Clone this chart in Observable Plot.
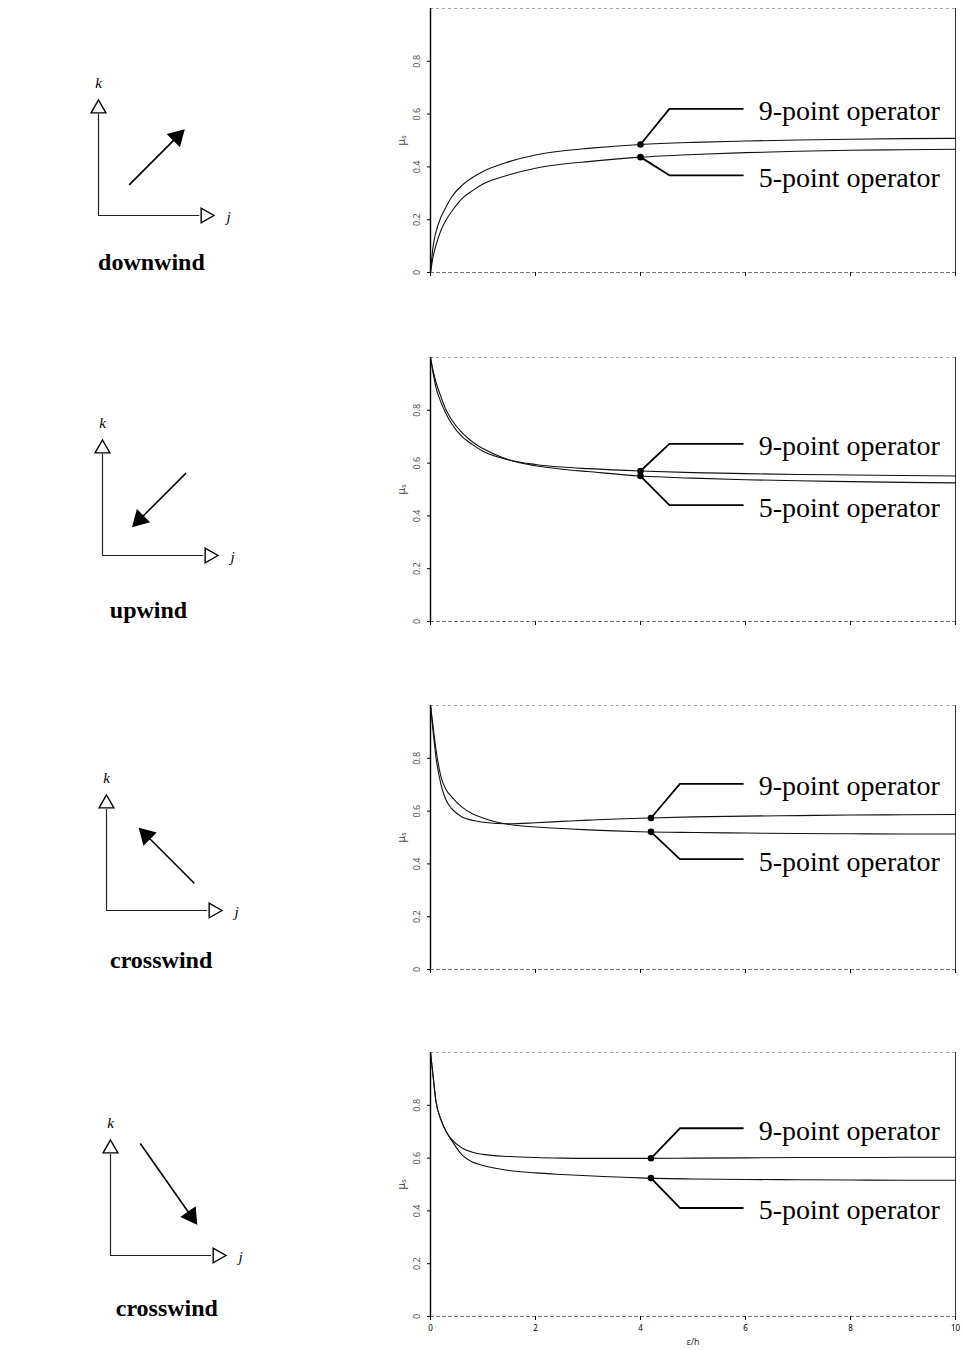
<!DOCTYPE html>
<html><head><meta charset="utf-8">
<script src="https://cdn.jsdelivr.net/npm/d3@7"></script>
<script src="https://cdn.jsdelivr.net/npm/@observablehq/plot@0.6"></script>
<style>
html,body{margin:0;padding:0;background:#fff;}
#root{position:relative;width:963px;height:1350px;overflow:hidden;background:#fff;}
#root svg{position:absolute;background:transparent;overflow:visible;max-width:none;}
g[aria-label="op-label"] text{letter-spacing:0.1px;}
g[aria-label="wind-label"] text{letter-spacing:0.9px;}
</style></head><body><div id="root"></div>
<script>
// ---- data ----
const eps = [0, 0.05, 0.1, 0.2, 0.3, 0.4, 0.6, 0.8, 1, 1.5, 2, 2.5, 3, 4, 5, 6, 7, 8, 9, 10];

const downwind9 = [0, 0.10, 0.15, 0.21, 0.25, 0.285, 0.33, 0.36, 0.383, 0.42, 0.445, 0.46, 0.47, 0.485, 0.493, 0.498, 0.502, 0.505, 0.507, 0.508];
const downwind5 = [0, 0.06, 0.10, 0.16, 0.20, 0.23, 0.28, 0.31, 0.335, 0.37, 0.395, 0.41, 0.42, 0.437, 0.447, 0.454, 0.459, 0.463, 0.465, 0.467];

const upwind9 = [1.0, 0.94, 0.89, 0.83, 0.785, 0.75, 0.70, 0.67, 0.645, 0.612, 0.595, 0.585, 0.579, 0.570, 0.564, 0.560, 0.557, 0.555, 0.553, 0.551];
const upwind5 = [1.0, 0.95, 0.91, 0.85, 0.80, 0.765, 0.715, 0.68, 0.655, 0.612, 0.59, 0.577, 0.568, 0.551, 0.543, 0.537, 0.533, 0.530, 0.527, 0.525];

const crossA9 = [1.0, 0.90, 0.81, 0.70, 0.64, 0.61, 0.578, 0.565, 0.558, 0.552, 0.556, 0.561, 0.566, 0.573, 0.578, 0.581, 0.583, 0.585, 0.586, 0.587];
const crossA5 = [1.0, 0.92, 0.84, 0.73, 0.68, 0.655, 0.615, 0.59, 0.574, 0.549, 0.54, 0.534, 0.529, 0.522, 0.519, 0.517, 0.515, 0.514, 0.513, 0.513];

const crossB9 = [1.0, 0.91, 0.82, 0.745, 0.70, 0.672, 0.638, 0.622, 0.614, 0.606, 0.602, 0.600, 0.599, 0.599, 0.600, 0.601, 0.602, 0.602, 0.603, 0.603];
const crossB5 = [1.0, 0.91, 0.82, 0.745, 0.70, 0.668, 0.612, 0.585, 0.572, 0.553, 0.544, 0.538, 0.533, 0.525, 0.521, 0.519, 0.518, 0.517, 0.516, 0.516];

const seriesNames = ["9-point operator", "5-point operator"];
const windNames = ["downwind", "upwind", "crosswind", "crosswind"];
const windAngles = [45, 225, 315, 145];   // flow direction, degrees clockwise from k

const yTicks = [0, 0.2, 0.4, 0.6, 0.8];
const yTickLabels = ["0", "0.2", "0.4", "0.6", "0.8"];
const xTicks = [0, 2, 4, 6, 8, 10];
const xTickLabels = ["0", "2", "4", "6", "8", "10"];

const markerEps = [4, 4, 4.2, 4.2];            // where the callout dots sit
const callout9 = [0.62, 0.673, 0.703, 0.713];  // callout level, 9-point
const callout5 = [0.368, 0.441, 0.418, 0.411]; // callout level, 5-point

const panels = [[downwind9, downwind5], [upwind9, upwind5], [crossA9, crossA5], [crossB9, crossB5]];

// ---- layout ----
const chartTops = [0, 349, 697, 1044];
const diagOrigins = [[98, 215], [102, 555], [106, 910], [110, 1255]];
const arrowGeom = [ // center (axis units) and half-length
  {cx: 0.50, cy: 0.50, h: 0.33},
  {cx: 0.50, cy: 0.49, h: 0.32},
  {cx: 0.53, cy: 0.47, h: 0.33},
  {cx: 0.50, cy: 0.63, h: 0.42}
];
const windLabelPos = [{x: 0.46, dy: 47}, {x: 0.40, dy: 55}, {x: 0.475, dy: 50}, {x: 0.49, dy: 53}];

const root = document.getElementById("root");
const serif = "Liberation Serif, Times New Roman, serif";

function chart(i) {
  const [s9, s5] = panels[i];
  const data = eps.flatMap((x, j) => [{x, y: s9[j], s: "9"}, {x, y: s5[j], s: "5"}]);
  const mx = markerEps[i];
  const v9 = d3.scaleLinear(eps, s9)(mx);
  const v5 = d3.scaleLinear(eps, s5)(mx);
  const lineEnd = 5.95;
  const leaders = [
    {x: mx, y: v9, s: "9"}, {x: mx + 0.55, y: callout9[i], s: "9"}, {x: lineEnd, y: callout9[i], s: "9"},
    {x: mx, y: v5, s: "5"}, {x: mx + 0.55, y: callout5[i], s: "5"}, {x: lineEnd, y: callout5[i], s: "5"}
  ];
  const labels = [
    {x: lineEnd + 0.3, y: callout9[i], t: seriesNames[0]},
    {x: lineEnd + 0.3, y: callout5[i], t: seriesNames[1]}
  ];
  const last = i === 3;
  const marks = [
    Plot.ruleY([0], {stroke: "#777", strokeDasharray: "4,2", strokeWidth: 1}),
    Plot.ruleY([1], {stroke: "#aaa", strokeDasharray: "3,3", strokeWidth: 1}),
    Plot.ruleX([0], {stroke: "#000", strokeWidth: 1.4}),
    Plot.ruleX([10], {stroke: "#333", strokeWidth: 1}),
    Plot.axisX({ticks: xTicks, tickSize: 4, tickPadding: 5, fontSize: 8, label: null,
      tickFormat: last ? (d) => xTickLabels[xTicks.indexOf(d)] : () => ""}),
    Plot.axisY({ticks: yTicks, tickSize: 3, label: null, tickFormat: () => ""}),
    Plot.text(yTicks, {x: () => 0, y: (d) => d, text: (d, k) => yTickLabels[k], rotate: -90, dx: -13, fontSize: 9, fill: "#555"}),
    Plot.text(["μₛ"], {x: () => 0, y: () => 0.5, text: (d) => d, rotate: -90, dx: -29, fontSize: 11, fill: "#444"}),
    Plot.line(data, {x: "x", y: "y", z: "s", curve: "monotone-x", stroke: "#111", strokeWidth: 1.1}),
    Plot.line(leaders, {x: "x", y: "y", z: "s", stroke: "#000", strokeWidth: 1.8}),
    Plot.dot([{x: mx, y: v9}, {x: mx, y: v5}], {x: "x", y: "y", r: 3.3, fill: "#000"}),
    Plot.text(labels, {x: "x", y: "y", text: "t", textAnchor: "start", dy: 2.5, fontSize: 28, fontFamily: serif, fill: "#000", ariaLabel: "op-label"})
  ];
  if (last) marks.push(Plot.text(["ε/h"], {x: () => 5, y: () => 0, text: (d) => d, dy: 26, fontSize: 9, fill: "#333"}));
  const svg = Plot.plot({
    width: 583, height: last ? 306 : 292,
    marginLeft: 50, marginRight: 8, marginTop: 8, marginBottom: last ? 34 : 20,
    x: {domain: [0, 10]}, y: {domain: [0, 1]},
    marks
  });
  svg.style.left = "380px";
  svg.style.top = chartTops[i] + "px";
  root.appendChild(svg);
}

function diagram(i) {
  const a = windAngles[i] * Math.PI / 180;
  const dx = Math.sin(a), dy = Math.cos(a);
  const g = arrowGeom[i];
  const tail = {x: g.cx - dx * g.h, y: g.cy - dy * g.h};
  const headPos = {x: g.cx + dx * (g.h - 0.07), y: g.cy + dy * (g.h - 0.07)};
  const lp = windLabelPos[i];
  const svg = Plot.plot({
    width: 185, height: 225, marginLeft: 30, marginRight: 40, marginTop: 40, marginBottom: 70,
    x: {domain: [0, 1], axis: null}, y: {domain: [0, 1], axis: null},
    marks: [
      Plot.ruleX([0], {y1: 0, y2: 0.88, stroke: "#222", strokeWidth: 1.2}),
      Plot.ruleY([0], {x1: 0, x2: 0.88, stroke: "#222", strokeWidth: 1.2}),
      Plot.dot([{x: 0, y: 0.93, rot: 0}, {x: 0.93, y: 0, rot: 90}], {x: "x", y: "y", rotate: "rot", symbol: "triangle", r: 5.5, fill: "white", stroke: "#000", strokeWidth: 1.4}),
      Plot.link([{tail, headPos}], {x1: (d) => d.tail.x, y1: (d) => d.tail.y, x2: (d) => d.headPos.x, y2: (d) => d.headPos.y, stroke: "#000", strokeWidth: 1.6}),
      Plot.dot([headPos], {x: "x", y: "y", symbol: "triangle", rotate: windAngles[i], r: 6, fill: "#000", stroke: "#000"}),
      Plot.text(["k"], {x: () => 0, y: () => 1, text: (d) => d, dy: -17, fontSize: 15, fontStyle: "italic", fontFamily: serif, fill: "#000"}),
      Plot.text(["j"], {x: () => 1, y: () => 0, text: (d) => d, dx: 15, dy: 2, fontSize: 15, fontStyle: "italic", fontFamily: serif, fill: "#000"}),
      Plot.text([windNames[i]], {x: () => lp.x, y: () => 0, text: (d) => d, dy: lp.dy, fontSize: 24, fontWeight: "bold", fontFamily: serif, fill: "#000", ariaLabel: "wind-label"})
    ]
  });
  svg.style.left = (diagOrigins[i][0] - 30) + "px";
  svg.style.top = (diagOrigins[i][1] - 155) + "px";
  root.appendChild(svg);
}

for (let i = 0; i < 4; i++) { diagram(i); chart(i); }
</script>
</body></html>
